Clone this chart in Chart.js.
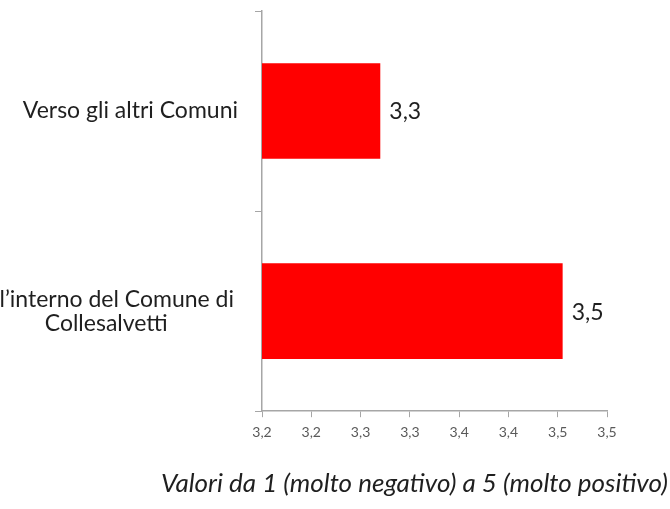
<!DOCTYPE html>
<html lang="it">
<head>
<meta charset="utf-8">
<script src="https://cdn.jsdelivr.net/npm/chart.js@4"></script>
<style>
    html, body { margin: 0; padding: 0; background: #fff; }
    .box-grafico { width: 670px; height: 509px; }
</style>
</head>
<body>
<div class="box-grafico">
    <canvas class="grafico"></canvas>
</div>
<script>
// dati
const categorie = ['Verso gli altri Comuni', ['All\u2019interno del Comune di', 'Collesalvetti']]
const valori = [3.32, 3.505]
const etichetteAsse = ['3,2', '3,2', '3,3', '3,3', '3,4', '3,4', '3,5', '3,5']
const titoloAsse = 'Valori da 1 (molto negativo) a 5 (molto positivo)'

const canva = document.querySelector('.grafico')
const font = 'Lato, "Open Sans", sans-serif'

// etichette delle categorie, righe centrate tra loro e blocco allineato a destra
const pluginCategorie = {
    id: 'categorie',
    afterDraw(chart) {
        const ctx = chart.ctx
        const scala = chart.scales.y
        ctx.save()
        ctx.font = '23px ' + font
        ctx.fillStyle = '#1f1f1f'
        ctx.textAlign = 'center'
        ctx.textBaseline = 'middle'
        categorie.forEach((cat, i) => {
            const righe = Array.isArray(cat) ? cat : [cat]
            const larg = Math.max(...righe.map(r => ctx.measureText(r).width))
            const bordoDestro = righe.length > 1 ? 234 : 238
            const cx = bordoDestro - larg / 2
            const y0 = scala.getPixelForValue(i) - (righe.length - 1) * 24 / 2
            righe.forEach((r, k) => ctx.fillText(r, cx, y0 + k * 24))
        })
        ctx.restore()
    }
}

// valori a destra delle barre
const pluginValori = {
    id: 'valori',
    afterDatasetsDraw(chart) {
        const ctx = chart.ctx
        ctx.save()
        ctx.font = '23px ' + font
        ctx.fillStyle = '#1f1f1f'
        ctx.textAlign = 'left'
        ctx.textBaseline = 'middle'
        chart.getDatasetMeta(0).data.forEach((barra, i) => {
            ctx.fillText(valori[i].toFixed(1).replace('.', ','), barra.x + 9, barra.y + 1)
        })
        ctx.restore()
    }
}

// titolo in basso, allineato al bordo destro della finestra
const pluginTitolo = {
    id: 'titolo',
    afterDraw(chart) {
        const ctx = chart.ctx
        ctx.save()
        ctx.font = 'italic 26px ' + font
        ctx.fillStyle = '#1f1f1f'
        ctx.textAlign = 'right'
        ctx.textBaseline = 'middle'
        ctx.fillText(titoloAsse, chart.width - 2, 484)
        ctx.restore()
    }
}

new Chart(canva.getContext('2d'), {
    type: 'bar',
    data: {
        labels: categorie,
        datasets: [{
            data: valori,
            backgroundColor: '#ff0000',
            borderWidth: 0,
            barPercentage: 0.478,
            categoryPercentage: 1
        }]
    },
    options: {
        indexAxis: 'y',
        responsive: true,
        maintainAspectRatio: false,
        animation: false,
        layout: { padding: { left: 255, right: 63, top: 11, bottom: 61 } },
        plugins: {
            legend: { display: false },
            tooltip: { enabled: false }
        },
        scales: {
            x: {
                min: 3.2,
                max: 3.55,
                ticks: {
                    stepSize: 0.05,
                    color: '#595959',
                    font: { family: font, size: 14 },
                    padding: 7,
                    callback: (valore, indice) => etichetteAsse[indice]
                },
                grid: { drawOnChartArea: false, tickLength: 6, color: '#a6a6a6' },
                border: { color: '#a6a6a6', width: 1.5 }
            },
            y: {
                offset: true,
                ticks: { display: false },
                grid: { offset: true, drawOnChartArea: false, tickLength: 7, color: '#a6a6a6' },
                border: { color: '#a6a6a6', width: 1.5 }
            }
        }
    },
    plugins: [pluginCategorie, pluginValori, pluginTitolo]
})
</script>
</body>
</html>
